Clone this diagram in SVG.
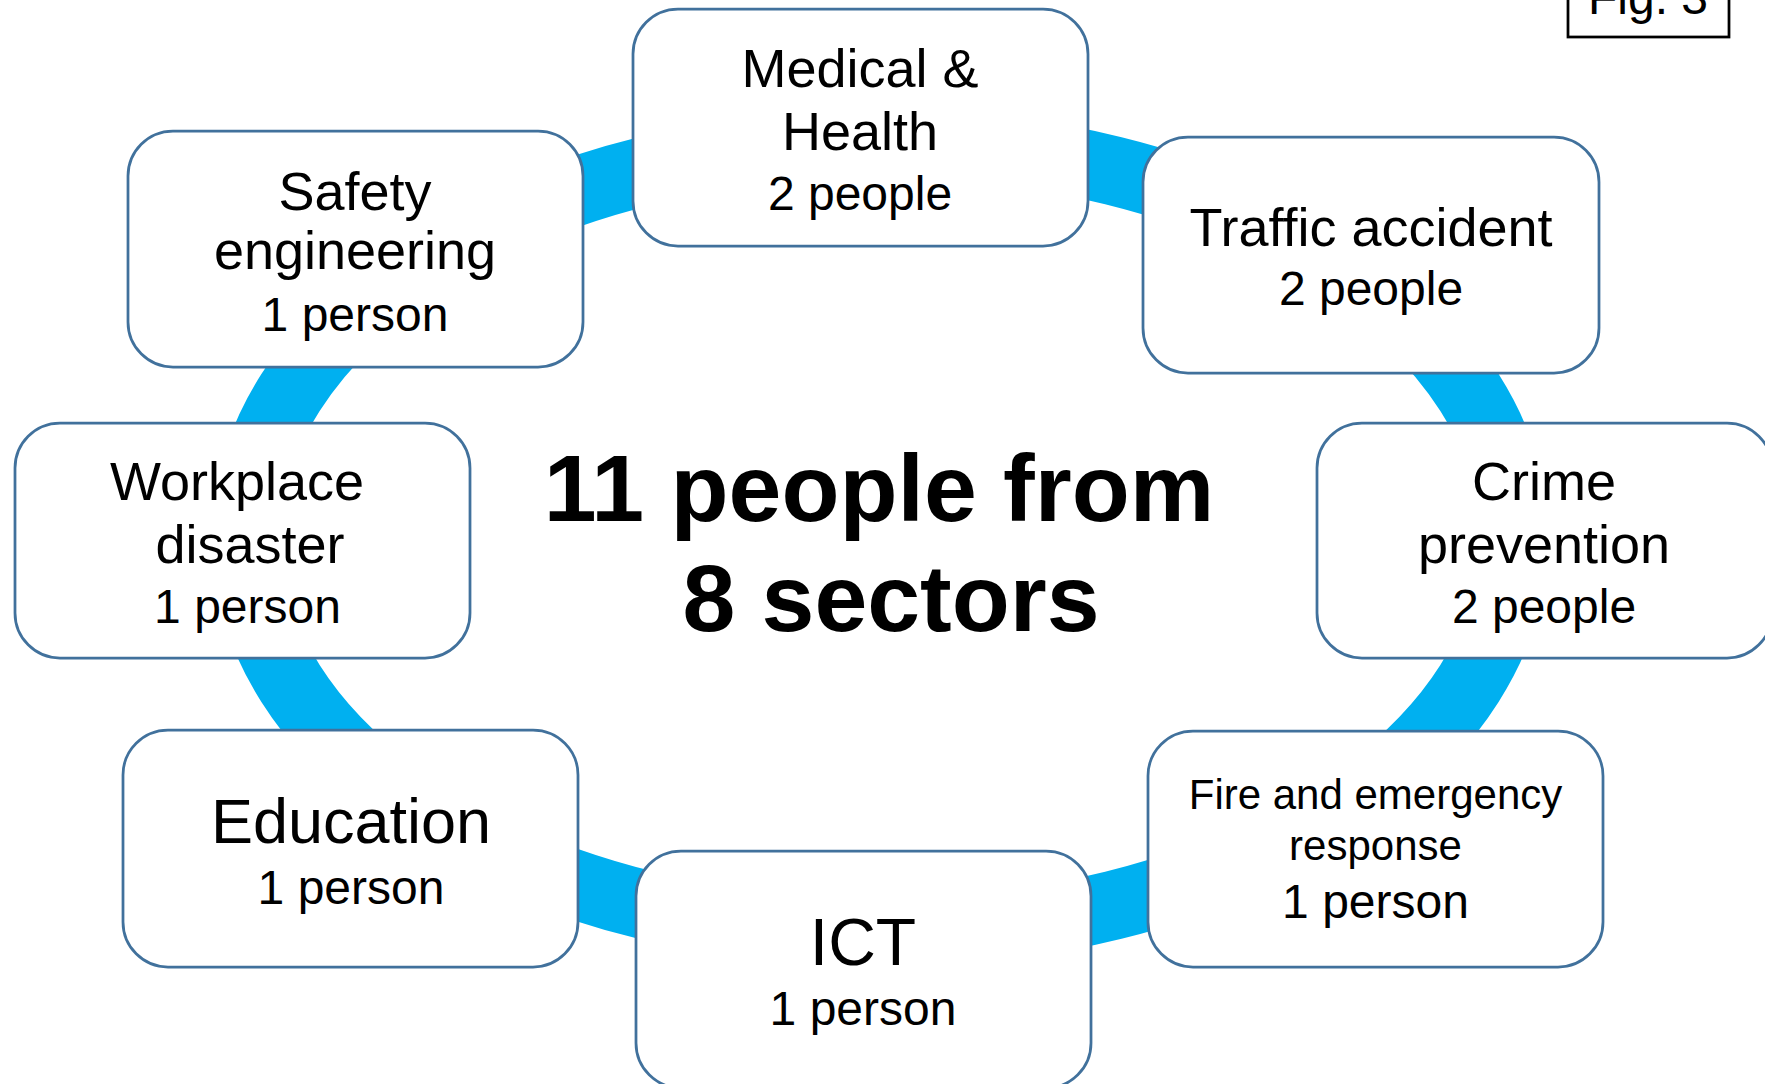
<svg xmlns="http://www.w3.org/2000/svg" width="1765" height="1084" viewBox="0 0 1765 1084">
<style>
.box{fill:#ffffff;stroke:#41719C;stroke-width:2.75}
.t{font-family:"Liberation Sans",Arial,sans-serif;fill:#000;text-anchor:middle}
.m{font-size:54px}
.c{font-size:48px}
.ring{fill:none;stroke:#00B0F0;stroke-width:69}
.big{font-family:"Liberation Sans",Arial,sans-serif;font-weight:bold;font-size:95px;fill:#000;text-anchor:middle}
</style>
<rect x="0" y="0" width="1765" height="1084" fill="#ffffff"/>
<g id="connectors">
<ellipse class="ring" cx="880" cy="538" rx="634" ry="395"/>
</g>
<g id="center-text">
<text class="big" x="879" y="521">11 people from</text>
<text class="big" x="891" y="631">8 sectors</text>
</g>
<g id="node-medical">
<rect class="box" x="633" y="9" width="455" height="237" rx="45"/>
<text class="t m" x="860" y="87">Medical &amp;</text>
<text class="t m" x="860" y="150">Health</text>
<text class="t c" x="860" y="210">2 people</text>
</g>
<g id="node-traffic">
<rect class="box" x="1143" y="137" width="456" height="236" rx="45"/>
<text class="t m" x="1371" y="246">Traffic accident</text>
<text class="t c" x="1371" y="305">2 people</text>
</g>
<g id="node-crime">
<rect class="box" x="1317" y="423" width="455" height="235" rx="45"/>
<text class="t m" x="1544" y="500">Crime</text>
<text class="t m" x="1544" y="563">prevention</text>
<text class="t c" x="1544" y="623">2 people</text>
</g>
<g id="node-fire">
<rect class="box" x="1148" y="731" width="455" height="236" rx="45"/>
<text class="t" style="font-size:42px" x="1375.5" y="809">Fire and emergency</text>
<text class="t" style="font-size:42px" x="1375.5" y="860">response</text>
<text class="t c" x="1375.5" y="918">1 person</text>
</g>
<g id="node-ict">
<rect class="box" x="636" y="851" width="455" height="237" rx="45"/>
<text class="t" style="font-size:66px" x="863" y="965">ICT</text>
<text class="t c" x="863" y="1025">1 person</text>
</g>
<g id="node-education">
<rect class="box" x="123" y="730" width="455" height="237" rx="45"/>
<text class="t" style="font-size:63px" x="351" y="843">Education</text>
<text class="t c" x="351" y="904">1 person</text>
</g>
<g id="node-workplace">
<rect class="box" x="15" y="423" width="455" height="235" rx="45"/>
<text class="t m" x="237" y="500">Workplace</text>
<text class="t m" x="250" y="563">disaster</text>
<text class="t c" x="247.5" y="623">1 person</text>
</g>
<g id="node-safety">
<rect class="box" x="128" y="131" width="455" height="236" rx="45"/>
<text class="t m" x="355" y="210">Safety</text>
<text class="t m" x="355" y="269">engineering</text>
<text class="t c" x="355" y="331">1 person</text>
</g>
<g id="fig-label">
<rect x="1568" y="-30" width="161" height="67" fill="#ffffff" stroke="#000" stroke-width="2.75"/>
<text class="t" style="font-size:48px" x="1648" y="14">Fig. 3</text>
</g>
</svg>
